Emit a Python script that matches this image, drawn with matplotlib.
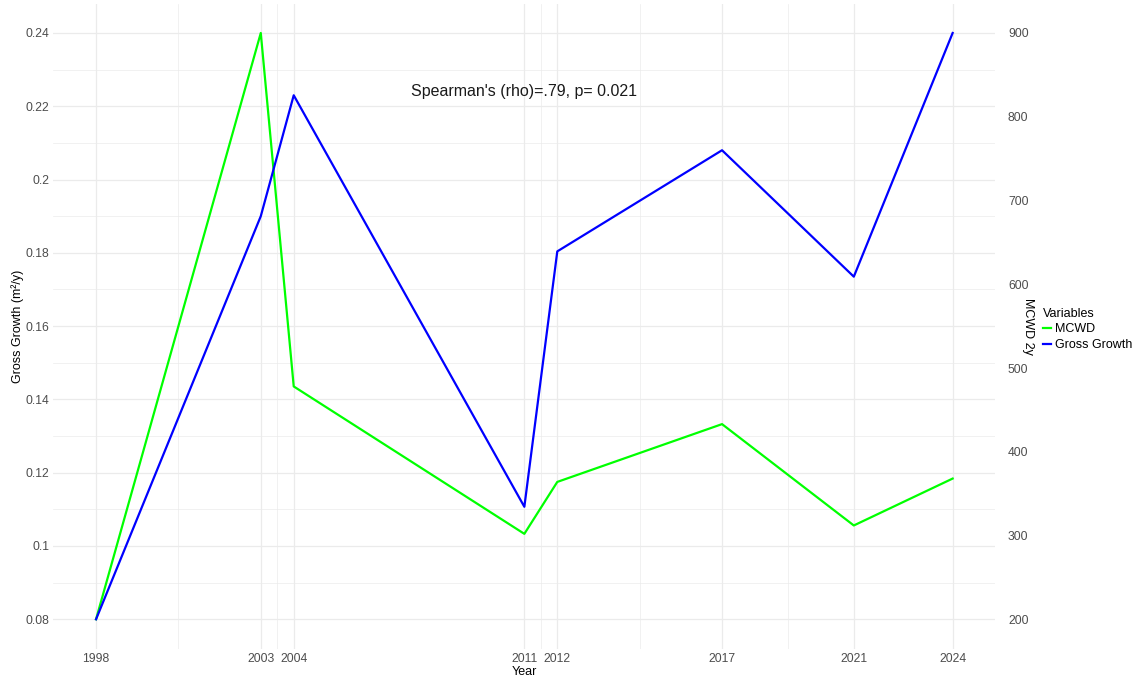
import matplotlib
matplotlib.use('Agg')
import matplotlib.pyplot as plt
from matplotlib.lines import Line2D

plt.rcParams['font.family']=['Liberation Sans','DejaVu Sans']

# yearly series
years=[1998,2003,2004,2011,2012,2017,2021,2024]
gross_growth=[0.080,0.190,0.223,0.1107,0.1804,0.208,0.1735,0.240]   # m2/y
mcwd=[200,900,478,302,364,433,312,368]                               # MCWD 2y
year_labels=['1998','2003','2004','2011','2012','2017','2021','2024']
gg_ticks=[0.08,0.10,0.12,0.14,0.16,0.18,0.20,0.22,0.24]
gg_tick_labels=['0.08','0.1','0.12','0.14','0.16','0.18','0.2','0.22','0.24']
mcwd_ticks=[200,300,400,500,600,700,800,900]
rho_text="Spearman's (rho)=.79, p= 0.021"

# secondary axis transform: 0.08 <-> 200, 0.24 <-> 900
k=(900-200)/(0.24-0.08)
def to_mcwd(g): return 200+(g-0.08)*k
def to_gg(m): return 0.08+(m-200)/k

grid='#ebebeb'
fig=plt.figure(figsize=(11.42,6.8),dpi=100)
ax=fig.add_axes([0.0466,0.0462,0.8251,0.9484])
ax.set_xlim(1996.7,2025.3); ax.set_ylim(0.072,0.248)
for s in ax.spines.values(): s.set_visible(False)

# grid: majors on the ticks, minors in between
minor_x=[2000.5,2003.5,2011.5,2014.5,2019]
minor_y=[0.09,0.11,0.13,0.15,0.17,0.19,0.21,0.23]
for x in years: ax.axvline(x,color=grid,lw=0.9,zorder=0)
for x in minor_x: ax.axvline(x,color=grid,lw=0.5,zorder=0)
for y in gg_ticks: ax.axhline(y,color=grid,lw=0.9,zorder=0)
for y in minor_y: ax.axhline(y,color=grid,lw=0.5,zorder=0)

ax.plot(years,[to_gg(m) for m in mcwd],color='#00ff00',lw=1.6,zorder=2)
ax.plot(years,gross_growth,color='#0000ff',lw=1.6,zorder=3)

ax.set_xticks(years); ax.set_xticklabels(year_labels)
ax.set_yticks(gg_ticks); ax.set_yticklabels(gg_tick_labels)
ax.tick_params(length=0,labelsize=8.7,labelcolor='#4d4d4d',pad=3)
ax.set_xlabel('Year',fontsize=9,labelpad=1)
ax.set_ylabel('Gross Growth (m\u00b2/y)',fontsize=9,labelpad=0.5)

sec=ax.secondary_yaxis('right',functions=(to_mcwd,to_gg))
sec.set_yticks(mcwd_ticks)
for s in sec.spines.values(): s.set_visible(False)
sec.tick_params(length=0,labelsize=8.7,labelcolor='#4d4d4d',pad=9)
sec.set_ylabel('MCWD 2y',fontsize=9,rotation=270,labelpad=4)

ax.text(2011,0.2241,rho_text,ha='center',va='center',fontsize=11.5,color='#1a1a1a')

handles=[Line2D([],[],color='#00ff00',lw=1.6),Line2D([],[],color='#0000ff',lw=1.6)]
leg=fig.legend(handles,['MCWD','Gross Growth'],title='Variables',loc='upper left',
  bbox_to_anchor=(0.909,0.555),frameon=False,fontsize=9,title_fontsize=9,
  handlelength=0.6,handletextpad=0.35,labelspacing=0.3,borderaxespad=0,alignment='left')

fig.savefig('out.png',dpi=100)
